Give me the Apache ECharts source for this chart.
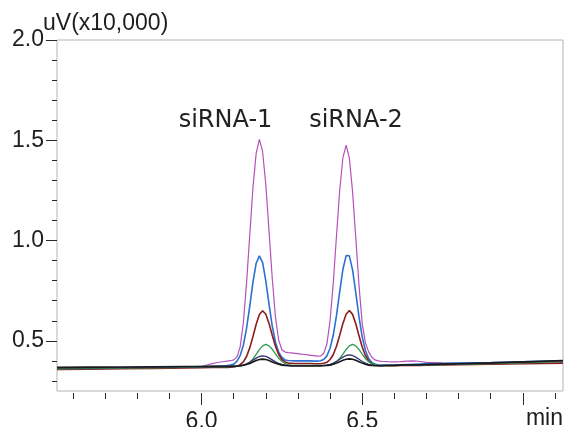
<!DOCTYPE html>
<html>
<head>
<meta charset="utf-8">
<script src="https://cdn.jsdelivr.net/npm/echarts@6/dist/echarts.min.js"></script>
<style>
  html, body { margin: 0; padding: 0; background: #ffffff; }
  #chart { width: 566px; height: 427px; }
</style>
</head>
<body>
<div id="chart"></div>
<script>
// Retention time grid (min), shared by every trace
const times = [
  5.55, 5.65, 5.75, 5.85, 5.95, 6.00, 6.03, 6.05, 6.07,
  6.08, 6.09, 6.10,
  6.11, 6.12, 6.13, 6.14, 6.15, 6.16, 6.17, 6.18, 6.19, 6.20,
  6.21, 6.22, 6.23, 6.24, 6.25, 6.26, 6.27, 6.28, 6.29, 6.30,
  6.31, 6.32, 6.33, 6.34, 6.35, 6.36, 6.37, 6.38, 6.39, 6.40,
  6.41, 6.42, 6.43, 6.44, 6.45, 6.46, 6.47, 6.48, 6.49, 6.50,
  6.51, 6.52, 6.53, 6.54, 6.55, 6.56, 6.57, 6.58,
  6.60, 6.62, 6.64, 6.66, 6.68, 6.70, 6.75, 6.80, 6.90, 7.00, 7.125
];

// Detector response, uV (x10,000), one array per injection
const traceMagenta = [
  0.360, 0.362, 0.364, 0.366, 0.368, 0.372, 0.385, 0.392, 0.397,
  0.399, 0.401, 0.405,
  0.419, 0.469, 0.590, 0.788, 1.028, 1.265, 1.436, 1.505, 1.443, 1.278,
  1.047, 0.812, 0.619, 0.503, 0.456, 0.444, 0.441, 0.440, 0.438, 0.436,
  0.434, 0.432, 0.430, 0.428, 0.426, 0.424, 0.425, 0.437, 0.484, 0.601,
  0.791, 1.024, 1.251, 1.414, 1.476, 1.411, 1.244, 1.014, 0.778, 0.586,
  0.490, 0.445, 0.418, 0.405, 0.400, 0.398, 0.397, 0.396,
  0.395, 0.396, 0.399, 0.400, 0.397, 0.393, 0.390, 0.389, 0.390, 0.392, 0.395
];
const traceBlue = [
  0.362, 0.364, 0.366, 0.368, 0.370, 0.372, 0.373, 0.374, 0.375,
  0.377, 0.379, 0.384,
  0.398, 0.426, 0.478, 0.562, 0.673, 0.793, 0.887, 0.924, 0.890, 0.799,
  0.682, 0.574, 0.493, 0.443, 0.417, 0.405, 0.402, 0.401, 0.400, 0.400,
  0.400, 0.400, 0.400, 0.400, 0.399, 0.399, 0.401, 0.407, 0.425, 0.463,
  0.529, 0.627, 0.746, 0.857, 0.925, 0.924, 0.854, 0.741, 0.620, 0.520,
  0.452, 0.412, 0.392, 0.384, 0.380, 0.379, 0.379, 0.379,
  0.380, 0.381, 0.382, 0.383, 0.384, 0.385, 0.387, 0.389, 0.392, 0.396, 0.400
];
const traceRed = [
  0.357, 0.359, 0.361, 0.363, 0.365, 0.366, 0.367, 0.367, 0.368,
  0.368, 0.369, 0.370,
  0.373, 0.381, 0.395, 0.422, 0.465, 0.522, 0.583, 0.631, 0.650, 0.633,
  0.587, 0.528, 0.473, 0.432, 0.407, 0.395, 0.389, 0.388, 0.387, 0.387,
  0.387, 0.387, 0.387, 0.387, 0.386, 0.386, 0.386, 0.388, 0.393, 0.407,
  0.432, 0.473, 0.528, 0.587, 0.633, 0.651, 0.632, 0.585, 0.525, 0.469,
  0.427, 0.401, 0.386, 0.380, 0.377, 0.376, 0.376, 0.376,
  0.376, 0.377, 0.377, 0.378, 0.378, 0.379, 0.380, 0.381, 0.383, 0.386, 0.389
];
const traceGreen = [
  0.360, 0.362, 0.364, 0.366, 0.368, 0.369, 0.370, 0.370, 0.371,
  0.371, 0.372, 0.372,
  0.373, 0.374, 0.378, 0.383, 0.394, 0.410, 0.433, 0.456, 0.475, 0.482,
  0.475, 0.458, 0.435, 0.413, 0.397, 0.387, 0.382, 0.379, 0.378, 0.378,
  0.378, 0.378, 0.378, 0.378, 0.378, 0.378, 0.378, 0.378, 0.379, 0.382,
  0.387, 0.397, 0.412, 0.434, 0.457, 0.475, 0.482, 0.475, 0.457, 0.434,
  0.412, 0.396, 0.386, 0.381, 0.378, 0.377, 0.377, 0.377,
  0.377, 0.378, 0.378, 0.379, 0.379, 0.380, 0.381, 0.383, 0.386, 0.390, 0.396
];
const traceNavy = [
  0.365, 0.366, 0.367, 0.368, 0.370, 0.371, 0.371, 0.372, 0.372,
  0.372, 0.372, 0.373,
  0.374, 0.376, 0.380, 0.385, 0.393, 0.404, 0.414, 0.422, 0.425, 0.423,
  0.415, 0.405, 0.395, 0.388, 0.383, 0.380, 0.378, 0.377, 0.377, 0.377,
  0.377, 0.377, 0.377, 0.377, 0.377, 0.377, 0.377, 0.378, 0.380, 0.383,
  0.389, 0.397, 0.408, 0.419, 0.427, 0.430, 0.427, 0.419, 0.408, 0.397,
  0.389, 0.383, 0.380, 0.378, 0.377, 0.377, 0.378, 0.378,
  0.378, 0.379, 0.379, 0.380, 0.380, 0.381, 0.383, 0.385, 0.389, 0.394, 0.400
];
const traceBlack = [
  0.368, 0.369, 0.370, 0.371, 0.372, 0.372, 0.373, 0.373, 0.373,
  0.373, 0.373, 0.374,
  0.375, 0.376, 0.378, 0.382, 0.387, 0.395, 0.402, 0.407, 0.409, 0.407,
  0.402, 0.395, 0.388, 0.383, 0.379, 0.377, 0.376, 0.375, 0.375, 0.375,
  0.375, 0.375, 0.375, 0.375, 0.375, 0.375, 0.375, 0.376, 0.377, 0.379,
  0.383, 0.389, 0.396, 0.403, 0.408, 0.410, 0.408, 0.403, 0.396, 0.389,
  0.383, 0.379, 0.377, 0.376, 0.376, 0.376, 0.377, 0.377,
  0.378, 0.379, 0.380, 0.380, 0.381, 0.382, 0.384, 0.386, 0.390, 0.395, 0.402
];

// Axis ticks and labels
const yLabelValues = [0.5, 1.0, 1.5, 2.0];
const yMinorTicks = [0.3, 0.4, 0.6, 0.7, 0.8, 0.9, 1.1, 1.2, 1.3, 1.4, 1.6, 1.7, 1.8, 1.9];
const xLabelValues = [6.0, 6.5];
const xMajorTicks = [6.0, 6.5, 7.0];
const xMinorTicks = [5.6, 5.7, 5.8, 5.9, 6.1, 6.2, 6.3, 6.4, 6.6, 6.7, 6.8, 6.9, 7.1];
const peakNames = ['siRNA-1', 'siRNA-2'];
const yUnit = 'uV(x10,000)';
const xUnit = 'min';

const AXIS_FONT = '"Liberation Sans", Arial, sans-serif';
const AXIS_SIZE = 23;
const PEAK_FONT = '24px "DejaVu Sans", sans-serif';
const TEXT_COLOR = '#1e1e1e';
const TICK_COLOR = '#2a2a2a';

const traces = [
  { values: traceMagenta, color: '#b452b8', width: 1.2 },
  { values: traceBlue,    color: '#2c70d4', width: 1.6 },
  { values: traceRed,     color: '#8c1c1c', width: 1.6 },
  { values: traceGreen,   color: '#2f9a4e', width: 1.3 },
  { values: traceNavy,    color: '#34346e', width: 1.3 },
  { values: traceBlack,   color: '#1a1a1a', width: 1.6 }
];

const chart = echarts.init(document.getElementById('chart'), null, { renderer: 'canvas' });

const xRange = { min: 5.55, max: 7.125 };
const yRange = { min: 0.25, max: 2.0 };

function hidden() { return { show: false }; }

const option = {
  animation: false,
  backgroundColor: '#ffffff',
  grid: {
    left: 57, right: 3, top: 40, bottom: 36,
    outerBoundsMode: 'none',
    containLabel: false,
    show: true, borderColor: '#b4b4b4', borderWidth: 1, backgroundColor: 'transparent'
  },
  xAxis: [
    {
      type: 'value', min: xRange.min, max: xRange.max, position: 'bottom', offset: 2,
      axisLine: hidden(), splitLine: hidden(),
      axisTick: { show: true, customValues: xMajorTicks, length: 12, lineStyle: { color: TICK_COLOR, width: 1 } },
      axisLabel: {
        customValues: xLabelValues, formatter: v => v.toFixed(1), margin: 17,
        fontFamily: AXIS_FONT, fontSize: AXIS_SIZE, color: TEXT_COLOR
      }
    },
    {
      type: 'value', min: xRange.min, max: xRange.max, position: 'bottom', offset: 2,
      axisLine: hidden(), splitLine: hidden(), axisLabel: hidden(),
      axisTick: { show: true, customValues: xMinorTicks, length: 6, lineStyle: { color: TICK_COLOR, width: 1 } }
    }
  ],
  yAxis: [
    {
      type: 'value', min: yRange.min, max: yRange.max, position: 'left',
      axisLine: hidden(), splitLine: hidden(),
      axisTick: { show: true, customValues: yLabelValues, length: 11, lineStyle: { color: TICK_COLOR, width: 1 } },
      axisLabel: {
        customValues: yLabelValues, formatter: v => v.toFixed(1), margin: 13,
        fontFamily: AXIS_FONT, fontSize: AXIS_SIZE, color: TEXT_COLOR
      }
    },
    {
      type: 'value', min: yRange.min, max: yRange.max, position: 'left',
      axisLine: hidden(), splitLine: hidden(), axisLabel: hidden(),
      axisTick: { show: true, customValues: yMinorTicks, length: 5, lineStyle: { color: TICK_COLOR, width: 1 } }
    }
  ],
  series: traces.map(t => ({
    type: 'line',
    xAxisIndex: 0,
    yAxisIndex: 0,
    data: times.map((x, i) => [x, t.values[i]]),
    showSymbol: false,
    symbol: 'none',
    smooth: false,
    clip: true,
    lineStyle: { color: t.color, width: t.width },
    emphasis: { disabled: true }
  })),
  graphic: [
    {
      type: 'text', x: 43, y: 24,
      style: { text: yUnit, font: AXIS_SIZE + 'px ' + AXIS_FONT, fill: TEXT_COLOR, textAlign: 'left', textVerticalAlign: 'middle' }
    },
    {
      type: 'text', x: 563, y: 419,
      style: { text: xUnit, font: AXIS_SIZE + 'px ' + AXIS_FONT, fill: TEXT_COLOR, textAlign: 'right', textVerticalAlign: 'middle' }
    },
    {
      type: 'text', x: 225.5, y: 121,
      style: { text: peakNames[0], font: PEAK_FONT, fill: '#222222', textAlign: 'center', textVerticalAlign: 'middle' }
    },
    {
      type: 'text', x: 356, y: 121,
      style: { text: peakNames[1], font: PEAK_FONT, fill: '#222222', textAlign: 'center', textVerticalAlign: 'middle' }
    }
  ]
};

chart.setOption(option);
</script>
</body>
</html>
